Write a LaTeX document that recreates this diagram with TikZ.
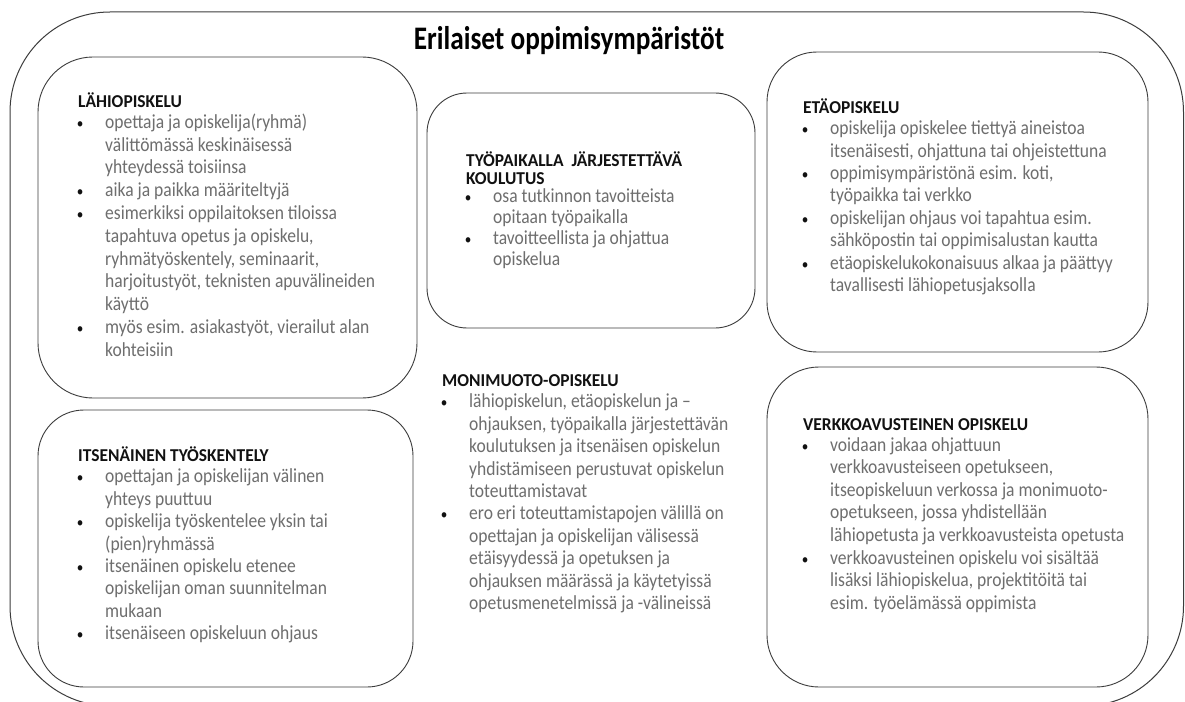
\documentclass[tikz,border=0pt]{standalone}
\usepackage{fontspec}
\setmainfont{Carlito}
\newfontfamily\bodyfont[FakeStretch=0.88]{Carlito}
\newfontfamily\titlefont[FakeStretch=0.83]{Carlito}
\newfontfamily\headfont[FakeStretch=0.96]{Carlito}
\definecolor{bodygray}{HTML}{6E6E6E}
\definecolor{headblack}{HTML}{111111}
\definecolor{linegray}{HTML}{3C3C3C}
\newcommand\Hd[1]{\hbox{\color{headblack}\headfont\fontsize{18.2}{20}\selectfont\bfseries #1}}
\newcommand\Bu[1]{\hbox{\hbox to 27bp{\hbox to 4bp{\hss\color{headblack}\fontsize{15}{15}\selectfont\textbullet\hss}\hss}#1}}
\newcommand\Cn[1]{\hbox{\hspace*{27bp}#1}}
\newcommand\Blk[2][22.5bp]{\vtop{\baselineskip=#1\lineskiplimit=-50bp\lineskip=0pt #2}}
\tikzset{
  frame/.style={draw=linegray, line width=1bp},
  boxline/.style={draw=linegray, line width=0.9bp},
  txt/.style={anchor=base west, inner sep=0pt, text=bodygray,
    font=\bodyfont\fontsize{20}{22.5}\selectfont},
}
\begin{document}
\begin{tikzpicture}[x=1bp,y=-1bp]
\useasboundingbox (0,0) rectangle (1185,702);
\fill[white] (0,0) rectangle (1185,702);
% outer frame
\draw[frame, rounded corners=100bp] (10,12) rectangle (1183.5,706);
% title
\node[anchor=base, inner sep=0pt] (title) at (569,50)
  {\titlefont\bfseries\fontsize{33}{36}\selectfont\color{black}Erilaiset oppimisympäristöt};
% boxes
\draw[boxline, rounded corners=55bp] (38,57) rectangle (417,398);
\draw[boxline, rounded corners=40bp] (427,93) rectangle (755,328);
\draw[boxline, rounded corners=50bp] (767,52) rectangle (1148,352);
\draw[boxline, rounded corners=46bp] (38,410) rectangle (413,687);
\draw[boxline, rounded corners=52bp] (767,367) rectangle (1148,687);
% texts
\node[txt] (lahi) at (78,108) {\Blk[22.8bp]{%
  \Hd{LÄHIOPISKELU}\kern-2.5bp
  \Bu{opettaja ja opiskelija(ryhmä)}
  \Cn{välittömässä keskinäisessä}
  \Cn{yhteydessä toisiinsa}
  \Bu{aika ja paikka määriteltyjä}
  \Bu{esimerkiksi oppilaitoksen tiloissa}
  \Cn{tapahtuva opetus ja opiskelu,}
  \Cn{ryhmätyöskentely, seminaarit,}
  \Cn{harjoitustyöt, teknisten apuvälineiden}
  \Cn{käyttö}
  \Bu{myös esim. asiakastyöt, vierailut alan}
  \Cn{kohteisiin}}};
\node[txt] (tyo) at (466,167) {\Blk[21bp]{%
  \Hd{TYÖPAIKALLA\hspace{4bp} JÄRJESTETTÄVÄ}\kern-3.5bp
  \Hd{KOULUTUS}\kern-3bp
  \Bu{osa tutkinnon tavoitteista}
  \Cn{opitaan työpaikalla}
  \Bu{tavoitteellista ja ohjattua}
  \Cn{opiskelua}}};
\node[txt] (eta) at (803,113.5) {\Blk[22.4bp]{%
  \Hd{ETÄOPISKELU}\kern-1.2bp
  \Bu{opiskelija opiskelee tiettyä aineistoa}
  \Cn{itsenäisesti, ohjattuna tai ohjeistettuna}
  \Bu{oppimisympäristönä esim. koti,}
  \Cn{työpaikka tai verkko}
  \Bu{opiskelijan ohjaus voi tapahtua esim.}
  \Cn{sähköpostin tai oppimisalustan kautta}
  \Bu{etäopiskelukokonaisuus alkaa ja päättyy}
  \Cn{tavallisesti lähiopetusjaksolla}}};
\node[txt] (its) at (78,461.5) {\Blk[22.4bp]{%
  \Hd{ITSENÄINEN TYÖSKENTELY}\kern-1bp
  \Bu{opettajan ja opiskelijan välinen}
  \Cn{yhteys puuttuu}
  \Bu{opiskelija työskentelee yksin tai}
  \Cn{(pien)ryhmässä}
  \Bu{itsenäinen opiskelu etenee}
  \Cn{opiskelijan oman suunnitelman}
  \Cn{mukaan}
  \Bu{itsenäiseen opiskeluun ohjaus}}};
\node[txt] (moni) at (442,386.5) {\Blk[22.4bp]{%
  \Hd{MONIMUOTO-OPISKELU}\kern-1bp
  \Bu{lähiopiskelun, etäopiskelun ja –}
  \Cn{ohjauksen, työpaikalla järjestettävän}
  \Cn{koulutuksen ja itsenäisen opiskelun}
  \Cn{yhdistämiseen perustuvat opiskelun}
  \Cn{toteuttamistavat}
  \Bu{ero eri toteuttamistapojen välillä on}
  \Cn{opettajan ja opiskelijan välisessä}
  \Cn{etäisyydessä ja opetuksen ja}
  \Cn{ohjauksen määrässä ja käytetyissä}
  \Cn{opetusmenetelmissä ja -välineissä}}};
\node[txt] (verkko) at (803,430) {\Blk[22.6bp]{%
  \Hd{VERKKOAVUSTEINEN OPISKELU}\kern-1.6bp
  \Bu{voidaan jakaa ohjattuun}
  \Cn{verkkoavusteiseen opetukseen,}
  \Cn{itseopiskeluun verkossa ja monimuoto-}
  \Cn{opetukseen, jossa yhdistellään}
  \Cn{lähiopetusta ja verkkoavusteista opetusta}
  \Bu{verkkoavusteinen opiskelu voi sisältää}
  \Cn{lisäksi lähiopiskelua, projektitöitä tai}
  \Cn{esim. työelämässä oppimista}}};
\end{tikzpicture}
\end{document}
